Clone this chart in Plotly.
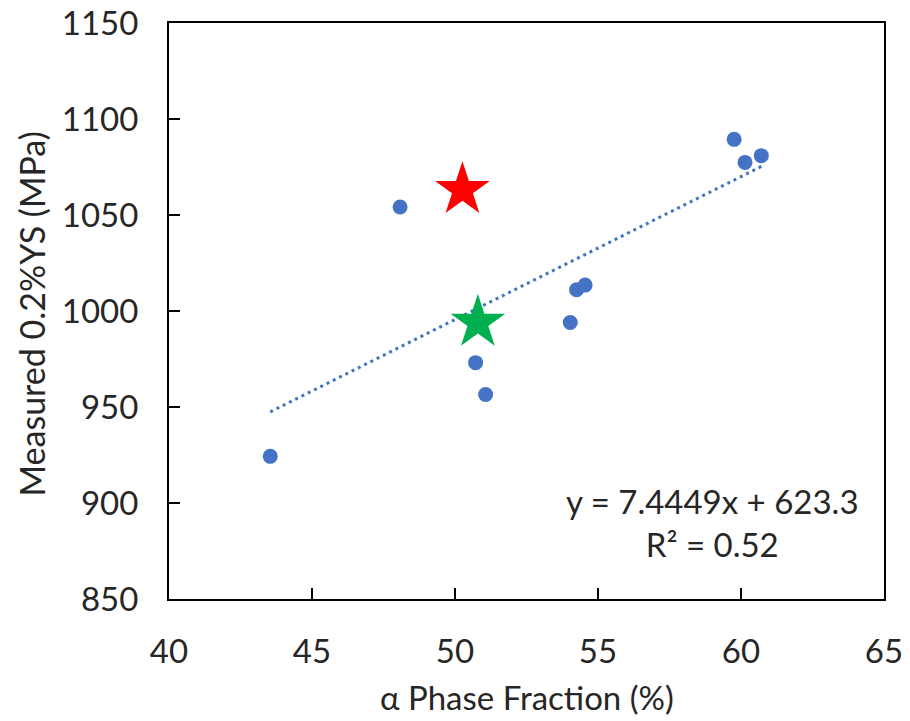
import plotly.graph_objects as go

# Measured samples: alpha phase fraction (%) vs 0.2% yield strength (MPa)
alpha_fraction = [43.54, 48.08, 50.72, 51.07, 54.03, 54.25, 54.55, 59.76, 60.14, 60.71]
yield_strength = [924.3, 1054.2, 973.1, 956.5, 994.0, 1011.1, 1013.5, 1089.4, 1077.4, 1080.9]

# Linear trend reported for the measured samples
slope = 7.4449
intercept = 623.3
r_squared = 0.52

# Highlighted samples
red_star = (50.26, 1063.1)
green_star = (50.80, 994.0)

x_ticks = [40, 45, 50, 55, 60, 65]
y_ticks = [850, 900, 950, 1000, 1050, 1100, 1150]

x_title = "α Phase Fraction (%)"
y_title = "Measured 0.2%YS (MPa)"

FONT = "Lato"
BLUE = "#4472C4"
TEXT = "#262626"

x_lo, x_hi = min(alpha_fraction), max(alpha_fraction)
trend_x = [x_lo, x_hi]
trend_y = [slope * v + intercept for v in trend_x]

fig = go.Figure()

fig.add_trace(go.Scatter(
    x=trend_x, y=trend_y, mode="lines",
    line=dict(color=BLUE, width=3, dash="3px,4px"),
    hoverinfo="skip", showlegend=False,
))

fig.add_trace(go.Scatter(
    x=alpha_fraction, y=yield_strength, mode="markers",
    marker=dict(color=BLUE, size=15, line=dict(width=0)),
    showlegend=False,
))

fig.add_trace(go.Scatter(
    x=[red_star[0]], y=[red_star[1]], mode="markers",
    marker=dict(symbol="star", color="#FF0000", size=41, line=dict(width=0)),
    showlegend=False,
))

fig.add_trace(go.Scatter(
    x=[green_star[0]], y=[green_star[1]], mode="markers",
    marker=dict(symbol="star", color="#00B050", size=41, line=dict(width=0)),
    showlegend=False,
))

# Trendline equation
fig.add_annotation(
    x=0.76, y=0.133, xref="paper", yref="paper",
    xanchor="center", yanchor="middle",
    text=f"y = {slope}x + {intercept}<br>R² = {r_squared}",
    showarrow=False, align="center",
    font=dict(family=FONT, size=33, color=TEXT),
)

# Axis titles
fig.add_annotation(
    x=0.5, y=-0.171, xref="paper", yref="paper",
    xanchor="center", yanchor="middle",
    text=x_title, showarrow=False,
    font=dict(family=FONT, size=33, color=TEXT),
)
fig.add_annotation(
    x=-0.193, y=0.494, xref="paper", yref="paper",
    xanchor="center", yanchor="middle", textangle=-90,
    text=y_title, showarrow=False,
    font=dict(family=FONT, size=34, color=TEXT),
)

axis_common = dict(
    showline=True, linewidth=2, linecolor="black", mirror=True,
    ticks="inside", ticklen=11, tickwidth=2, tickcolor="black",
    showgrid=False, zeroline=False, automargin=False,
    tickfont=dict(family=FONT, size=33, color=TEXT),
)

fig.update_xaxes(range=[40, 65], tickvals=x_ticks, ticklabelstandoff=22, **axis_common)
fig.update_yaxes(range=[850, 1150], tickvals=y_ticks, ticklabelstandoff=22, **axis_common)

fig.update_layout(
    width=910, height=721,
    margin=dict(l=169, r=26, t=23, b=122),
    paper_bgcolor="white", plot_bgcolor="white",
    showlegend=False,
)

fig.write_html("out.html")
